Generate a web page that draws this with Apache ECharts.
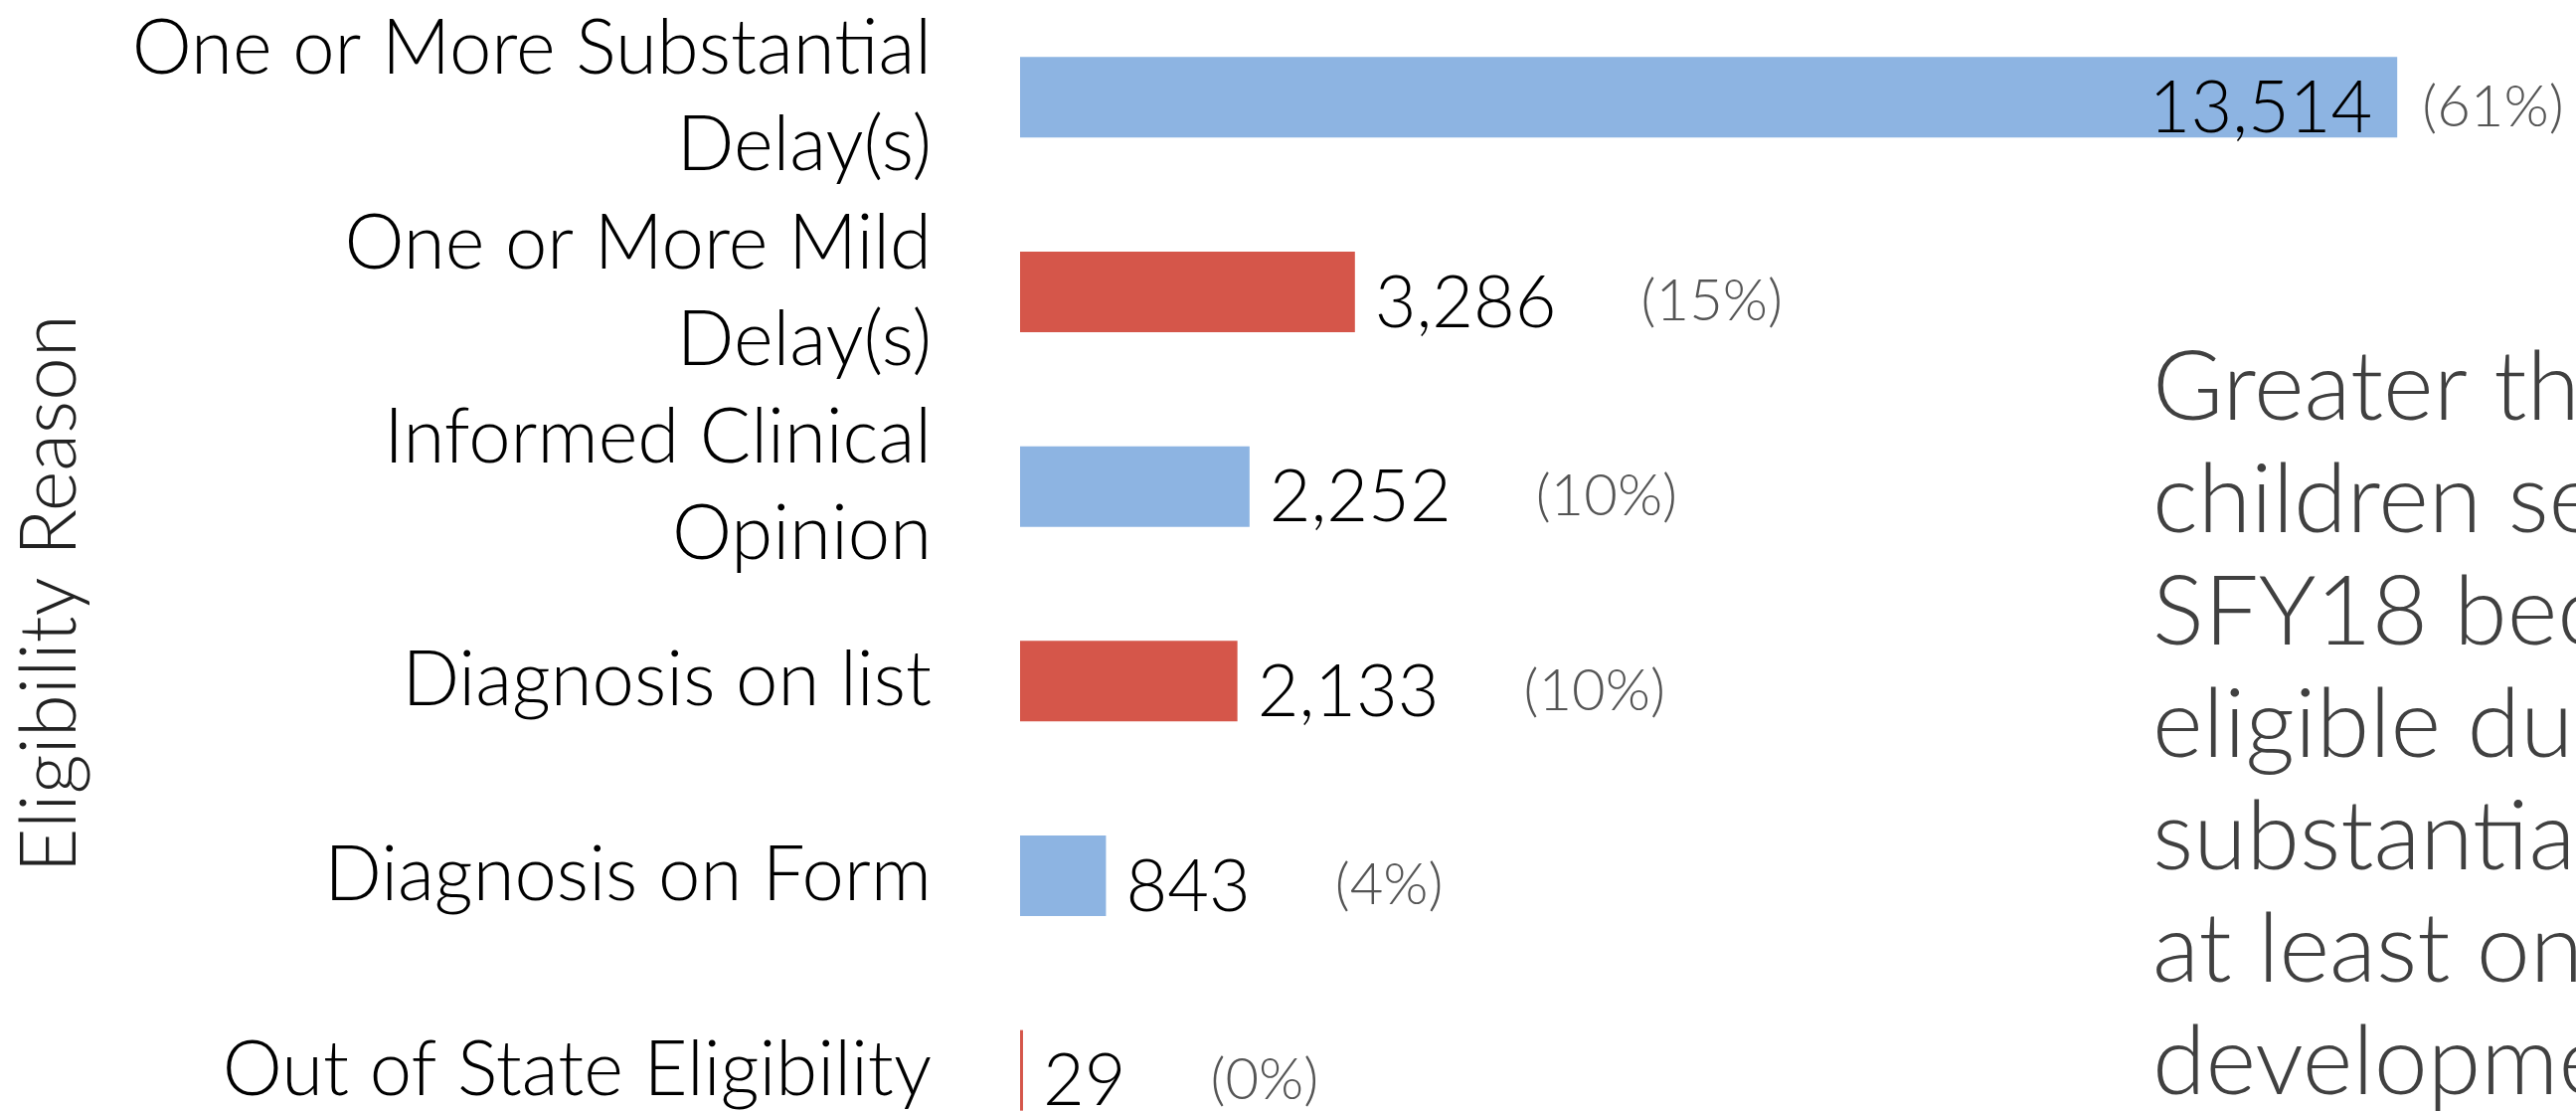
<!DOCTYPE html>
<html>
<head>
<meta charset="utf-8">
<script src="https://cdn.jsdelivr.net/npm/echarts@6/dist/echarts.min.js"></script>
<style>
  html, body { margin: 0; padding: 0; background: #fff; }
  #chart { width: 2591px; height: 1118px; }
</style>
</head>
<body>
<div id="chart"></div>
<script>
// data
const categories = [
  'One or More Substantial\nDelay(s)',
  'One or More Mild\nDelay(s)',
  'Informed Clinical\nOpinion',
  'Diagnosis on list',
  'Diagnosis on Form',
  'Out of State Eligibility'
]
const counts = [13514, 3286, 2252, 2133, 843, 29]
const percents = ['61%', '15%', '10%', '10%', '4%', '0%']
const noteLines = [
  'Greater than 60% of',
  'children served in',
  'SFY18 became',
  'eligible due to a',
  'substantial delay in',
  'at least one area of',
  'development.'
]

const FONT = 'Lato, "Open Sans", sans-serif'
const BLUE = '#8db4e2'
const RED = '#d5564a'
const VALUE_SIZE = 72
const PCT_SIZE = 58

// measure value label width so the percentage can sit after it
const ctx = document.createElement('canvas').getContext('2d')
ctx.font = `300 ${VALUE_SIZE}px ${FONT}`
const fmt = (v) => v.toLocaleString('en-US')

const chart = echarts.init(document.getElementById('chart'))

const option = {
  backgroundColor: '#fff',
  animation: false,
  grid: {
    left: 1026,
    right: 130,
    top: 0,
    bottom: -56,
    containLabel: false,
    outerBoundsMode: 'none'
  },
  xAxis: {
    type: 'value',
    min: 0,
    max: 14000,
    show: false
  },
  yAxis: {
    type: 'category',
    inverse: true,
    data: categories,
    axisLine: { show: false },
    axisTick: { show: false },
    axisLabel: {
      interval: 0,
      hideOverlap: false,
      margin: 89,
      color: '#000',
      fontFamily: FONT,
      fontWeight: 300,
      fontSize: 76,
      lineHeight: 97,
      align: 'right',
      padding: [12, 0, 0, 0]
    },
    name: 'Eligibility Reason',
    nameLocation: 'middle',
    nameGap: 936,
    nameRotate: 90,
    nameTextStyle: {
      color: '#222',
      fontFamily: FONT,
      fontWeight: 300,
      fontSize: 78,
      padding: [0, 20, 0, 0]
    }
  },
  series: [
    {
      type: 'bar',
      barWidth: 81,
      barGap: '-100%',
      data: counts.map((v, i) => ({
        value: v,
        itemStyle: { color: i % 2 === 0 ? BLUE : RED },
        label: i === 0 ? { position: 'insideRight', distance: 25 } : {}
      })),
      label: {
        show: true,
        position: 'right',
        distance: 20,
        offset: [0, 12],
        color: '#000',
        fontFamily: FONT,
        fontWeight: 300,
        fontSize: VALUE_SIZE,
        formatter: (p) => fmt(p.value)
      }
    },
    {
      // transparent twin carrying the percentage labels
      type: 'bar',
      barWidth: 81,
      silent: true,
      itemStyle: { color: 'transparent' },
      data: counts.map((v, i) => ({
        value: v,
        label: {
          distance: i === 0 ? 25 : 20 + ctx.measureText(fmt(v)).width + 85
        }
      })),
      label: {
        show: true,
        position: 'right',
        offset: [0, 10],
        color: '#555',
        fontFamily: FONT,
        fontWeight: 300,
        fontSize: PCT_SIZE,
        formatter: (p) => `(${percents[p.dataIndex]})`
      }
    }
  ],
  graphic: [
    {
      type: 'text',
      left: 2165,
      top: 334,
      style: {
        text: noteLines.join('\n'),
        fill: '#404040',
        font: `300 97px ${FONT}`,
        lineHeight: 113
      }
    }
  ]
}

chart.setOption(option)
</script>
</body>
</html>
